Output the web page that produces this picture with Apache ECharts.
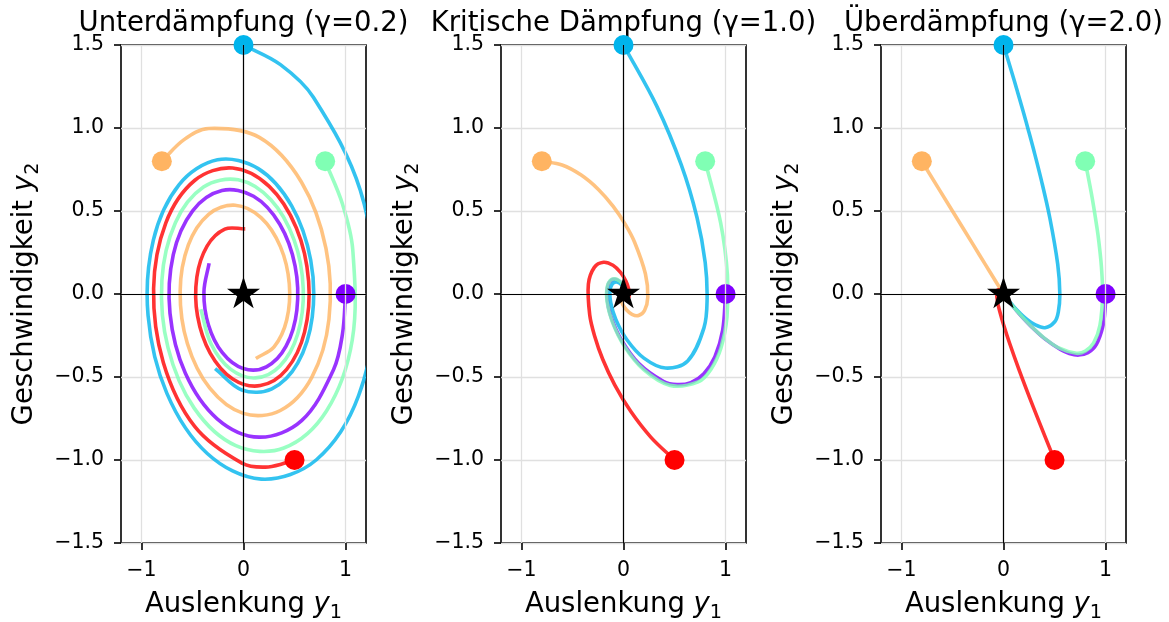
<!DOCTYPE html>
<html><head><meta charset="utf-8">
<script src="https://cdn.jsdelivr.net/npm/echarts@6/dist/echarts.min.js"></script>
<style>html,body{margin:0;padding:0;background:#fff}#c{width:1169px;height:622px}</style>
</head><body><div id="c"></div>
<script>
// ---- data ----
const titles = ['Unterdämpfung (γ=0.2)', 'Kritische Dämpfung (γ=1.0)', 'Überdämpfung (γ=2.0)'];
const xTicks = [-1, 0, 1];
const yTicks = [-1.5, -1.0, -0.5, 0, 0.5, 1.0, 1.5];
const colors = ['#8000ff', '#00b4ec', '#80ffb4', '#ffb462', '#ff0000'];
const startPoints = [[1, 0], [0, 1.5], [0.8, 0.8], [-0.8, 0.8], [0.5, -1]];
const equilibrium = [0, 0];

// Panel 1: Unterdämpfung
const p1Purple = [[1,0],[0.9694,-0.2413],[0.8815,-0.4562],[0.5690,-0.7628],[0.1536,-0.8624],[-0.2581,-0.7516],[-0.5704,-0.4763],[-0.7201,-0.1161],[-0.6878,0.2368],[-0.4983,0.5009],[-0.2108,0.6232],[0.0986,0.5887],[0.3555,0.4203],[0.5051,0.1700],[0.5228,-0.0961],[0.4170,-0.3145],[0.2242,-0.4388],[-0.0026,-0.4491],[-0.2072,-0.3537],[-0.3440,-0.1850],[-0.3877,0.0107],[-0.3369,0.1853]];
const p1Blue = [[0,1.5],[0.3620,1.3817],[0.6844,1.1854],[1.1441,0.6246],[1.2936,-0.0284],[1.1274,-0.6126],[0.7144,-0.9985],[0.1742,-1.1150],[-0.3552,-0.9607],[-0.7514,-0.5972],[-0.9349,-0.1292],[-0.8831,0.3244],[-0.6304,0.6593],[-0.2550,0.8086],[0.1442,0.7554],[0.4717,0.5312],[0.6582,0.2046],[0.6736,-0.1386],[0.5306,-0.4169],[0.2775,-0.5715],[-0.0161,-0.5783],[-0.2780,-0.4497]];
const p1Green = [[0.8,0.8],[0.9686,0.5439],[1.0702,0.2673],[1.0654,-0.2771],[0.8128,-0.7050],[0.3948,-0.9280],[-0.0753,-0.9135],[-0.4832,-0.6876],[-0.7397,-0.3230],[-0.7994,0.0822],[-0.6672,0.4297],[-0.3921,0.6440],[-0.0519,0.6878],[0.2681,0.5673],[0.4952,0.3260],[0.5852,0.0317],[0.5304,-0.2419],[0.3572,-0.4332],[0.1172,-0.5053],[-0.1272,-0.4528],[-0.3187,-0.2998],[-0.4178,-0.0916]];
const p1Orange = [[-0.8,0.8],[-0.5825,0.9300],[-0.3403,0.9972],[0.1550,0.9434],[0.5671,0.6748],[0.8078,0.2746],[0.8373,-0.1515],[0.6690,-0.5018],[0.3609,-0.7018],[-0.0021,-0.7193],[-0.3300,-0.5675],[-0.5498,-0.2979],[-0.6206,0.0154],[-0.5401,0.2953],[-0.3414,0.4798],[-0.0820,0.5349],[0.1717,0.4602],[0.3613,0.2853],[0.4487,0.0607],[0.4232,-0.1568],[0.3016,-0.3170],[0.1212,-0.3881]];
const p1Red = [[0.5,-1],[0.2434,-1.0418],[-0.0155,-1.0184],[-0.4783,-0.7978],[-0.7856,-0.4123],[-0.8807,0.0326],[-0.7615,0.4275],[-0.4762,0.6853],[-0.1072,0.7589],[0.2518,0.6486],[0.5179,0.3977],[0.6380,0.0781],[0.5980,-0.2294],[0.4225,-0.4541],[0.1653,-0.5517],[-0.1060,-0.5114],[-0.3267,-0.3558],[-0.4504,-0.1321],[-0.4573,0.1011],[-0.3570,0.2885],[-0.1831,0.3909],[0.0169,0.3925]];

// Panel 2: Kritische Dämpfung
const p2Purple = [[1,0],[0.9713,-0.2189],[0.8956,-0.3774],[0.7873,-0.4800],[0.6597,-0.5335],[0.5240,-0.5459],[0.3895,-0.5254],[0.1506,-0.4193],[-0.0234,-0.2741],[-0.1244,-0.1332],[-0.1617,-0.0221],[-0.1531,0.0495],[-0.1184,0.0834],[-0.0746,0.0879],[-0.0336,0.0737],[-0.0023,0.0509],[0.0172,0.0272],[0.0256,0.0076],[0.0259,-0.0057],[0.0210,-0.0127],[0.0140,-0.0145],[0.0071,-0.0128],[0.0015,-0.0093],[-0.0022,-0.0054]];
const p2Blue = [[0,1.5],[0.3284,1.1287],[0.5660,0.7774],[0.7200,0.4610],[0.8003,0.1893],[0.8188,-0.0328],[0.7881,-0.2039],[0.6289,-0.4031],[0.4112,-0.4462],[0.1999,-0.3864],[0.0332,-0.2757],[-0.0743,-0.1554],[-0.1252,-0.0525],[-0.1319,0.0200],[-0.1106,0.0602],[-0.0763,0.0729],[-0.0409,0.0666],[-0.0115,0.0499],[0.0086,0.0302],[0.0191,0.0124],[0.0218,-0.0008],[0.0192,-0.0086],[0.0140,-0.0117],[0.0081,-0.0113]];
const p2Green = [[0.8,0.8],[0.9522,0.4268],[1.0184,0.1127],[1.0138,-0.1381],[0.9546,-0.3258],[0.8559,-0.4542],[0.7319,-0.5291],[0.4559,-0.5504],[0.2006,-0.4573],[0.0071,-0.3127],[-0.1116,-0.1647],[-0.1621,-0.0433],[-0.1615,0.0388],[-0.1300,0.0810],[-0.0859,0.0911],[-0.0425,0.0796],[-0.0081,0.0573],[0.0144,0.0327],[0.0253,0.0115],[0.0270,-0.0036],[0.0228,-0.0120],[0.0159,-0.0148],[0.0086,-0.0137],[0.0026,-0.0104]];
const p2Orange = [[-0.8,0.8],[-0.6020,0.7771],[-0.4146,0.7165],[-0.2459,0.6299],[-0.1010,0.5278],[0.0175,0.4192],[0.1087,0.3116],[0.2150,0.1205],[0.2380,-0.0187],[0.2061,-0.0995],[0.1470,-0.1293],[0.0829,-0.1225],[0.0280,-0.0948],[-0.0107,-0.0597],[-0.0321,-0.0269],[-0.0389,-0.0018],[-0.0355,0.0137],[-0.0266,0.0205],[-0.0161,0.0207],[-0.0066,0.0168],[0.0004,0.0112],[0.0046,0.0057],[0.0063,0.0012],[0.0060,-0.0017]];
const p2Red = [[0.5,-1],[0.2668,-0.8619],[0.0705,-0.7069],[-0.0863,-0.5473],[-0.2037,-0.3930],[-0.2838,-0.2511],[-0.3307,-0.1268],[-0.3440,0.0591],[-0.2858,0.1604],[-0.1954,0.1910],[-0.1030,0.1727],[-0.0270,0.1284],[0.0242,0.0767],[0.0507,0.0306],[0.0569,-0.0032],[0.0498,-0.0232],[0.0358,-0.0308],[0.0205,-0.0295],[0.0072,-0.0230],[-0.0022,-0.0146],[-0.0075,-0.0068],[-0.0093,-0.0007],[-0.0086,0.0032],[-0.0065,0.0047]];

// Panel 3: Überdämpfung
const p3Purple = [[1,0],[0.9953,-0.0905],[0.9735,-0.1947],[0.9098,-0.3033],[0.8266,-0.3543],[0.7358,-0.3679],[0.6446,-0.3581],[0.5578,-0.3347],[0.4060,-0.2707],[0.2873,-0.2052],[0.1991,-0.1494],[0.1359,-0.1057],[0.0916,-0.0733],[0.0404,-0.0337],[0.0174,-0.0149],[0.0073,-0.0064],[0.0030,-0.0027],[0.0005,-0.0005]];
const p3Blue = [[0,1.5],[0.0713,1.3555],[0.1357,1.2215],[0.1937,1.0974],[0.2456,0.9825],[0.2921,0.8762],[0.3700,0.6871],[0.4549,0.4549],[0.5314,0.1771],[0.5518,0],[0.5372,-0.1074],[0.5020,-0.1673],[0.4060,-0.2030],[0.3078,-0.1847],[0.2240,-0.1494],[0.1585,-0.1132],[0.1099,-0.0824],[0.0505,-0.0404],[0.0223,-0.0186],[0.0096,-0.0082],[0.0040,-0.0035],[0.0007,-0.0006]];
const p3Green = [[0.8,0.8],[0.8686,0.5791],[0.9170,0.3930],[0.9346,0.3115],[0.9584,0.1691],[0.9704,0],[0.9447,-0.1889],[0.8829,-0.2943],[0.8022,-0.3438],[0.7140,-0.3570],[0.5413,-0.3248],[0.3940,-0.2627],[0.2788,-0.1991],[0.1933,-0.1449],[0.1319,-0.1026],[0.0593,-0.0485],[0.0258,-0.0218],[0.0109,-0.0095],[0.0046,-0.0040],[0.0008,-0.0007]];
const p3Orange = [[-0.8,0.8],[-0.4852,0.4852],[-0.2943,0.2943],[-0.1785,0.1785],[-0.1083,0.1083],[-0.0398,0.0398],[-0.0147,0.0147],[-0.0020,0.0020],[0,0]];
const p3Red = [[0.5,-1],[0.4072,-0.8596],[0.2921,-0.6815],[0.1516,-0.4549],[0.0590,-0.2952],[0,-0.1839],[-0.0358,-0.1074],[-0.0558,-0.0558],[-0.0677,0],[-0.0616,0.0205],[-0.0498,0.0249],[-0.0377,0.0226],[-0.0275,0.0183],[-0.0135,0.0101],[-0.0062,0.0050],[-0.0027,0.0023],[-0.0012,0.0010],[-0.0002,0.0002]];

const panels = [
  [p1Purple, p1Blue, p1Green, p1Orange, p1Red],
  [p2Purple, p2Blue, p2Green, p2Orange, p2Red],
  [p3Purple, p3Blue, p3Green, p3Orange, p3Red]
];

// ---- layout / style ----
const FONT = 'DejaVu Sans';
const gridLeft = [121, 501, 881];
const gridTop = 45, gridW = 245, gridH = 498;
const STAR = 'path://M50,0 L61.23,34.55 L97.55,34.55 L68.17,55.9 L79.39,90.45 L50,69.1 L20.61,90.45 L31.83,55.9 L2.45,34.55 L38.77,34.55 Z';
const SMOOTH = 0.35;

const minus = s => s.replace('-', '\u2212');
const nameRich = {
  n: { fontFamily: FONT, fontSize: 27.5, lineHeight: 34, color: '#000' },
  i: { fontFamily: FONT, fontSize: 27.5, lineHeight: 34, fontStyle: 'italic', color: '#000' },
  s: { fontFamily: FONT, fontSize: 19.3, lineHeight: 19, verticalAlign: 'bottom', color: '#000' }
};

// smooth curve through the data points (pixel positions come from the axes via api.coord)
function makeCurve(pts, color) {
  return function (params, api) {
    if (params.dataIndex !== 0) return null;
    const P = pts.map(p => api.coord(p));
    const dist = (a, b) => Math.hypot(b[0] - a[0], b[1] - a[1]);
    let d = 'M' + P[0][0].toFixed(2) + ' ' + P[0][1].toFixed(2);
    for (let k = 0; k < P.length - 1; k++) {
      const p0 = P[k - 1] || P[k], p1 = P[k], p2 = P[k + 1], p3 = P[k + 2] || P[k + 1];
      const d01 = dist(p0, p1), d12 = dist(p1, p2), d23 = dist(p2, p3);
      const a = (d01 + d12) > 0 ? SMOOTH * d12 / (d01 + d12) : 0;
      const b = (d12 + d23) > 0 ? SMOOTH * d12 / (d12 + d23) : 0;
      const c1x = p1[0] + (p2[0] - p0[0]) * a, c1y = p1[1] + (p2[1] - p0[1]) * a;
      const c2x = p2[0] - (p3[0] - p1[0]) * b, c2y = p2[1] - (p3[1] - p1[1]) * b;
      d += ' C' + c1x.toFixed(2) + ' ' + c1y.toFixed(2) + ' ' + c2x.toFixed(2) + ' ' + c2y.toFixed(2) + ' ' + p2[0].toFixed(2) + ' ' + p2[1].toFixed(2);
    }
    const cs = params.coordSys;
    return {
      type: 'path',
      shape: { pathData: d },
      style: { fill: 'none', stroke: color, lineWidth: 3.6, opacity: 0.8, lineJoin: 'round', lineCap: 'butt' },
      clipPath: { type: 'rect', shape: { x: cs.x, y: cs.y, width: cs.width, height: cs.height } }
    };
  };
}

const grids = [], xAxes = [], yAxes = [], series = [], graphics = [];
panels.forEach((trajs, i) => {
  grids.push({ left: gridLeft[i], top: gridTop, width: gridW, height: gridH, show: true,
    borderColor: '#000', borderWidth: 1.6, backgroundColor: 'transparent',
    containLabel: false, outerBoundsMode: 'none' });
  xAxes.push({ gridIndex: i, type: 'value', min: -1.2, max: 1.2,
    axisLine: { show: false, onZero: false },
    axisTick: { show: true, length: 7, customValues: xTicks, lineStyle: { color: '#000', width: 1.6 } },
    axisLabel: { customValues: xTicks, formatter: v => minus(String(Math.round(v))),
      fontFamily: FONT, fontSize: 20.5, color: '#000', margin: 17 },
    splitLine: { show: false },
    name: '{n|Auslenkung }{i|y}{s|1}', nameLocation: 'middle', nameGap: 45,
    nameTextStyle: { fontFamily: FONT, fontSize: 27.5, color: '#000', rich: nameRich } });
  yAxes.push({ gridIndex: i, type: 'value', min: -1.5, max: 1.5, interval: 0.5,
    axisLine: { show: false, onZero: false },
    axisTick: { show: true, length: 7, customValues: yTicks, lineStyle: { color: '#000', width: 1.6 } },
    axisLabel: { customValues: yTicks, formatter: v => minus(v.toFixed(1)),
      fontFamily: FONT, fontSize: 20.5, color: '#000', margin: 17 },
    splitLine: { show: true, lineStyle: { color: '#e0e0e0', width: 1.3 } },
    name: '{n|Geschwindigkeit }{i|y}{s|2}', nameLocation: 'middle', nameGap: 79,
    nameTextStyle: { fontFamily: FONT, fontSize: 27.5, color: '#000', rich: nameRich } });

  // vertical grid lines at x ticks
  series.push({ type: 'line', xAxisIndex: i, yAxisIndex: i, data: [], z: 1, silent: true,
    markLine: { silent: true, symbol: ['none', 'none'], animation: false, label: { show: false },
      lineStyle: { color: '#e0e0e0', width: 1.3, type: 'solid' },
      data: xTicks.map(v => ({ xAxis: v })) } });

  trajs.forEach((d, j) => {
    series.push({ type: 'custom', coordinateSystem: 'cartesian2d', xAxisIndex: i, yAxisIndex: i,
      data: d, z: 3, clip: true, animation: false, silent: true,
      renderItem: makeCurve(d, colors[j]) });
    series.push({ type: 'scatter', xAxisIndex: i, yAxisIndex: i, z: 3, animation: false, silent: true,
      data: [startPoints[j]], symbol: 'circle', symbolSize: 20,
      itemStyle: { color: colors[j], opacity: 1 } });
  });

  // zero lines
  series.push({ type: 'line', xAxisIndex: i, yAxisIndex: i, data: [], z: 6, silent: true,
    markLine: { silent: true, symbol: ['none', 'none'], animation: false, label: { show: false },
      lineStyle: { color: '#000', width: 1.2, type: 'solid' },
      data: [{ xAxis: 0 }, { yAxis: 0 }] } });
  // equilibrium star
  series.push({ type: 'scatter', xAxisIndex: i, yAxisIndex: i, z: 10, animation: false, silent: true,
    data: [equilibrium], symbol: STAR, symbolSize: [33, 31.4], symbolOffset: [0, -1.5],
    itemStyle: { color: '#000', opacity: 1 } });

  graphics.push({ type: 'text', x: gridLeft[i] + gridW / 2, y: 24, silent: true,
    style: { text: titles[i], font: '27.5px "DejaVu Sans"', fill: '#000',
      textAlign: 'center', textVerticalAlign: 'middle', align: 'center', verticalAlign: 'middle' } });
});

const chart = echarts.init(document.getElementById('c'), null, { renderer: 'canvas' });
chart.setOption({
  backgroundColor: '#fff',
  animation: false,
  textStyle: { fontFamily: FONT },
  grid: grids, xAxis: xAxes, yAxis: yAxes, series: series, graphic: graphics
});
</script></body></html>
